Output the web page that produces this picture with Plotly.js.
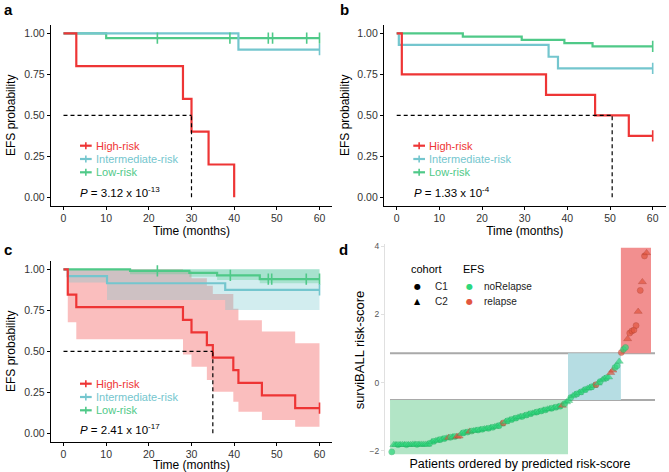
<!DOCTYPE html>
<html><head><meta charset="utf-8">
<script src="https://cdn.plot.ly/plotly-3.0.1.min.js"></script>
<style>html,body{margin:0;padding:0;background:#fff}#chart{width:669px;height:472px}</style>
</head><body><div id="chart"></div>
<script>
// ---------- DATA ----------
const groups = ['High-risk','Intermediate-risk','Low-risk'];
const timeTicks = [0,10,20,30,40,50,60];
const probTicks = [0,0.25,0.5,0.75,1];
const probTickText = ['0.00','0.25','0.50','0.75','1.00'];

// Panel a (cohort C1)
const aHighT = [0,3,28,30,34,40];          const aHighS = [1,0.8,0.6,0.4,0.2,0];
const aInterT = [0,41,60];                 const aInterS = [1,0.9,0.9];
const aLowT = [0,10,60];                   const aLowS = [1,0.971,0.971];
const aInterCensT = [60];                  const aInterCensS = [0.9];
const aLowCensT = [22,39,48,49,57,60];     const aLowCensS = [0.971,0.971,0.971,0.971,0.971,0.971];
const aMedian = 30;
const aP = '<i>P</i> = 3.12 x 10<sup>-13</sup>';

// Panel b (cohort C2)
const bHighT = [0,1.2,35,46.5,54.4,60];    const bHighS = [1,0.75,0.625,0.5,0.375,0.375];
const bInterT = [0,0.5,35.6,37.8,60];      const bInterS = [1,0.929,0.857,0.786,0.786];
const bLowT = [0,15.5,29.3,39.3,45.9,60];  const bLowS = [1,0.98,0.96,0.94,0.92,0.92];
const bHighCensT = [60];  const bHighCensS = [0.375];
const bInterCensT = [60]; const bInterCensS = [0.786];
const bLowCensT = [60];   const bLowCensS = [0.92];
const bMedian = 50.5;
const bP = '<i>P</i> = 1.33 x 10<sup>-4</sup>';

// Panel c (combined) with confidence bands
const cHighT = [0,1,3,28,30,33.6,35,39.8,41,46.5,54.3,60];
const cHighS = [1,0.846,0.769,0.692,0.615,0.538,0.462,0.385,0.308,0.231,0.154,0.154];
const cHighLo = [1,0.677,0.573,0.48,0.406,0.325,0.254,0.193,0.132,0.081,0.04,0.04];
const cHighHi = [1,1,1,0.99,0.945,0.9,0.85,0.76,0.69,0.62,0.549,0.549];
const cInterT = [0,1,10.2,37.9,60];
const cInterS = [1,0.958,0.915,0.874,0.874];
const cInterLo = [1,0.92,0.813,0.752,0.752];
const cInterHi = [1,1,1,1,1];
const cLowT = [0,15.6,29.5,36,46,60];
const cLowS = [1,0.99,0.978,0.963,0.94,0.94];
const cLowLo = [1,0.97,0.955,0.935,0.915,0.915];
const cLowHi = [1,1,1,1,1,1];
const cHighCensT = [60]; const cHighCensS = [0.154];
const cInterCensT = [60]; const cInterCensS = [0.874];
const cLowCensT = [22,39.1,48,48.8,56.9,60]; const cLowCensS = [0.99,0.963,0.94,0.94,0.94,0.94];
const cMedian = 35;
const cP = '<i>P</i> = 2.41 x 10<sup>-17</sup>';

// Panel d: risk scores ordered
const riskScore = [
-2.03,
-1.82,-1.82,-1.82,-1.82,-1.82,-1.82,-1.82,-1.82,-1.82,
-1.81,-1.81,-1.81,-1.81,-1.81,-1.81,-1.81,-1.81,
-1.78,-1.74,-1.72,-1.70,-1.69,-1.67,-1.66,-1.64,-1.63,
-1.61,-1.60,-1.59,-1.58,-1.58,-1.57,
-1.50,-1.47,-1.46,-1.45,-1.43,-1.42,-1.41,-1.40,-1.39,-1.38,
-1.37,-1.36,-1.35,-1.34,-1.32,-1.31,-1.29,-1.28,-1.26,-1.22,
-1.18,-1.15,-1.12,-1.10,-1.08,-1.06,-1.04,-1.02,-1.00,-0.99,
-0.97,-0.95,-0.93,-0.91,-0.90,-0.88,-0.86,-0.85,-0.83,-0.81,
-0.80,-0.78,-0.77,-0.75,-0.74,-0.72,-0.71,-0.69,-0.67,-0.62,
-0.57,-0.53,
-0.44,-0.39,-0.35,-0.33,-0.30,-0.27,-0.23,-0.20,-0.17,-0.15,
-0.12,-0.09,-0.06,-0.02,0.03,0.08,0.12,0.14,0.16,0.29,
0.36,0.44,0.49,0.62,
0.88,0.97,1.03,1.28,1.45,1.51,1.54,1.67,2.08,2.70,2.95,3.71,3.80];
const cohort = [
'C1',
'C2','C2','C1','C2','C2','C2','C1','C2','C2',
'C2','C2','C1','C2','C2','C2','C2','C2',
'C1','C2','C1','C2','C2','C1','C2','C1','C2',
'C2','C1','C2','C1','C2','C2',
'C2','C1','C2','C1','C2','C1','C2','C2','C1','C2',
'C1','C2','C2','C1','C2','C1','C2','C2','C1','C2',
'C1','C2','C1','C2','C1','C2','C1','C2','C2','C1',
'C2','C1','C2','C1','C2','C2','C1','C2','C1','C2',
'C1','C2','C2','C1','C2','C1','C2','C1','C2','C1',
'C2','C2',
'C1','C2','C2','C1','C2','C1','C2','C1','C2','C2',
'C1','C2','C1','C2','C1','C2','C2','C1','C2','C2',
'C2','C1','C1','C2',
'C1','C1','C1','C2','C1','C1','C1','C1','C2','C1','C2','C1','C2'];
const efs = [
'noRelapse',
'noRelapse','noRelapse','noRelapse','noRelapse','noRelapse','noRelapse','noRelapse','noRelapse','noRelapse',
'noRelapse','noRelapse','noRelapse','noRelapse','noRelapse','noRelapse','noRelapse','noRelapse',
'noRelapse','noRelapse','noRelapse','noRelapse','noRelapse','noRelapse','noRelapse','noRelapse','noRelapse',
'relapse','noRelapse','noRelapse','noRelapse','relapse','relapse',
'noRelapse','noRelapse','noRelapse','noRelapse','relapse','noRelapse','noRelapse','noRelapse','noRelapse','noRelapse',
'noRelapse','noRelapse','noRelapse','noRelapse','noRelapse','noRelapse','noRelapse','noRelapse','noRelapse','noRelapse',
'relapse','noRelapse','noRelapse','noRelapse','noRelapse','noRelapse','noRelapse','noRelapse','noRelapse','noRelapse',
'noRelapse','noRelapse','noRelapse','noRelapse','noRelapse','noRelapse','noRelapse','noRelapse','noRelapse','noRelapse',
'noRelapse','noRelapse','noRelapse','noRelapse','noRelapse','noRelapse','noRelapse','noRelapse','relapse','noRelapse',
'noRelapse','noRelapse',
'noRelapse','noRelapse','noRelapse','noRelapse','noRelapse','noRelapse','noRelapse','noRelapse','noRelapse','noRelapse',
'noRelapse','noRelapse','relapse','noRelapse','noRelapse','noRelapse','noRelapse','noRelapse','noRelapse','relapse',
'relapse','noRelapse','noRelapse','noRelapse',
'relapse','noRelapse','noRelapse','relapse','relapse','relapse','relapse','relapse','relapse','relapse','relapse','relapse','relapse'];
const riskCutoffs = [-0.51, 0.86];
const groupRankStart = [0.2, 84.7, 109.8];
const groupRankEnd = [84.7, 109.8, 124.1];
const groupScoreLow = [-2.1, -0.51, 0.86];
const groupScoreHigh = [-0.51, 0.86, 3.95];

// ---------- STYLE ----------
const W = 669, H = 472;
const px = v => v / W, py = v => 1 - v / H;
const RED = '#EE3535', TEAL = '#74C6CE', GREEN = '#4FC988';
const colors = [RED, TEAL, GREEN];
const FONT = 'Liberation Sans, Arial, sans-serif';
const PT_GREEN = '#2ED87C', PT_GREEN_EDGE = '#1FA85C', PT_RED = '#E2563F', PT_RED_EDGE = '#A83A2A';

const traces = [];
function km(t, s, color, n) {
  traces.push({x: t, y: s, mode: 'lines', line: {shape: 'hv', color: color, width: 2.2},
    xaxis: 'x' + n, yaxis: 'y' + n, showlegend: false, hoverinfo: 'skip'});
}
function cens(t, s, color, n) {
  traces.push({x: t, y: s, mode: 'markers', marker: {symbol: 'line-ns', size: 8, color: color, line: {color: color, width: 1.6}},
    xaxis: 'x' + n, yaxis: 'y' + n, showlegend: false, hoverinfo: 'skip'});
}
function band(t, lo, hi, fill, n) {
  traces.push({x: t, y: lo, mode: 'lines', line: {shape: 'hv', width: 0, color: 'rgba(0,0,0,0)'},
    xaxis: 'x' + n, yaxis: 'y' + n, showlegend: false, hoverinfo: 'skip'});
  traces.push({x: t, y: hi, mode: 'lines', line: {shape: 'hv', width: 0, color: 'rgba(0,0,0,0)'}, fill: 'tonexty', fillcolor: fill,
    xaxis: 'x' + n, yaxis: 'y' + n, showlegend: false, hoverinfo: 'skip'});
}

// a
km(aLowT, aLowS, GREEN, ''); km(aInterT, aInterS, TEAL, ''); km(aHighT, aHighS, RED, '');
cens(aLowCensT, aLowCensS, GREEN, ''); cens(aInterCensT, aInterCensS, TEAL, '');
// b
km(bLowT, bLowS, GREEN, 2); km(bInterT, bInterS, TEAL, 2); km(bHighT, bHighS, RED, 2);
cens(bLowCensT, bLowCensS, GREEN, 2); cens(bInterCensT, bInterCensS, TEAL, 2); cens(bHighCensT, bHighCensS, RED, 2);
// c
band(cHighT, cHighLo, cHighHi, 'rgba(238,52,52,0.32)', 3);
band(cInterT, cInterLo, cInterHi, 'rgba(116,198,206,0.32)', 3);
band(cLowT, cLowLo, cLowHi, 'rgba(79,201,136,0.32)', 3);
km(cLowT, cLowS, GREEN, 3); km(cInterT, cInterS, TEAL, 3); km(cHighT, cHighS, RED, 3);
cens(cLowCensT, cLowCensS, GREEN, 3); cens(cInterCensT, cInterCensS, TEAL, 3); cens(cHighCensT, cHighCensS, RED, 3);
// d
traces.push({
  x: riskScore.map((_, i) => i + 1), y: riskScore, mode: 'markers',
  marker: {
    symbol: cohort.map(c => c === 'C1' ? 'circle' : 'triangle-up'),
    size: cohort.map(c => c === 'C1' ? 6 : 7),
    color: efs.map(e => e === 'relapse' ? PT_RED : PT_GREEN),
    line: {width: 0.5, color: efs.map(e => e === 'relapse' ? PT_RED_EDGE : PT_GREEN_EDGE)}
  },
  xaxis: 'x4', yaxis: 'y4', showlegend: false, hoverinfo: 'skip'
});

// axes
function kmX(l, r, anchor) {
  return {domain: [px(l), px(r)], range: [-3, 63], anchor: anchor, showline: true, linecolor: '#000', linewidth: 1,
    ticks: 'outside', ticklen: 3, tickcolor: '#000', tickvals: timeTicks, tickfont: {size: 10.5, color: '#333', family: FONT},
    showgrid: false, zeroline: false, automargin: false,
    title: {text: 'Time (months)', font: {size: 12, color: '#000', family: FONT}, standoff: 2}};
}
function kmY(t, b, anchor) {
  return {domain: [py(b), py(t)], range: [-0.05, 1.05], anchor: anchor, showline: true, linecolor: '#000', linewidth: 1,
    ticks: 'outside', ticklen: 3, tickcolor: '#000', tickvals: probTicks, ticktext: probTickText,
    tickfont: {size: 10.5, color: '#333', family: FONT}, showgrid: false, zeroline: false, automargin: false,
    title: {text: 'EFS probability', font: {size: 12, color: '#000', family: FONT}, standoff: 5}};
}

const shapes = [];
const annotations = [];
// medians
[[aMedian, ''], [bMedian, '2'], [cMedian, '3']].forEach(([m, n]) => {
  shapes.push({type: 'line', xref: 'x' + n, yref: 'y' + n, x0: 0, x1: m, y0: 0.5, y1: 0.5, line: {color: '#000', width: 1.2, dash: '4px,3px'}});
  shapes.push({type: 'line', xref: 'x' + n, yref: 'y' + n, x0: m, x1: m, y0: 0, y1: 0.5, line: {color: '#000', width: 1.2, dash: '4px,3px'}});
});
// KM legends
function kmLegend(keyL, keyR, textX, ys, pX, pY, pText) {
  groups.forEach((g, i) => {
    const c = colors[i], y = ys[i], mid = (keyL + keyR) / 2;
    shapes.push({type: 'line', xref: 'paper', yref: 'paper', x0: px(keyL), x1: px(keyR), y0: py(y), y1: py(y), line: {color: c, width: 2.2}});
    shapes.push({type: 'line', xref: 'paper', yref: 'paper', x0: px(mid), x1: px(mid), y0: py(y - 3.5), y1: py(y + 3.5), line: {color: c, width: 1.6}});
    annotations.push({xref: 'paper', yref: 'paper', x: px(textX), y: py(y), xanchor: 'left', yanchor: 'middle', showarrow: false,
      text: g, font: {size: 11, color: c, family: FONT}});
  });
  annotations.push({xref: 'paper', yref: 'paper', x: px(pX), y: py(pY), xanchor: 'left', yanchor: 'middle', showarrow: false,
    text: pText, font: {size: 11.5, color: '#000', family: FONT}});
}
kmLegend(80, 91.7, 94, [145.7, 159, 172.3], 78, 191.7, aP);
kmLegend(413.3, 425, 427.5, [145.7, 159, 172.3], 411.5, 191.7, bP);
kmLegend(80, 91.7, 94, [383.7, 397, 410.3], 78, 428.7, cP);

// panel d rects and cutoffs
const rectColors = ['#B2E5C6', '#B6DDE3', '#F28F8F'];
for (let i = 0; i < 3; i++) {
  shapes.push({type: 'rect', xref: 'x4', yref: 'y4', x0: groupRankStart[i], x1: groupRankEnd[i], y0: groupScoreLow[i], y1: groupScoreHigh[i],
    fillcolor: rectColors[i], line: {width: 0}, layer: 'below'});
}
riskCutoffs.forEach(v => shapes.push({type: 'line', xref: 'x4 domain', yref: 'y4', x0: 0.0185, x1: 1, y0: v, y1: v,
  line: {color: '#A9A9A9', width: 2}, layer: 'below'}));

// panel d legend
const legF = {size: 10, color: '#222', family: FONT};
annotations.push({xref: 'paper', yref: 'paper', x: px(409), y: py(269.3), xanchor: 'left', yanchor: 'middle', showarrow: false, text: 'cohort', font: {size: 11, color: '#000', family: FONT}});
annotations.push({xref: 'paper', yref: 'paper', x: px(461), y: py(269.3), xanchor: 'left', yanchor: 'middle', showarrow: false, text: 'EFS', font: {size: 11, color: '#000', family: FONT}});
annotations.push({xref: 'paper', yref: 'paper', x: px(417.3), y: py(286.7), xanchor: 'center', yanchor: 'middle', showarrow: false, text: '●', font: {size: 8, color: '#000', family: 'DejaVu Sans'}});
annotations.push({xref: 'paper', yref: 'paper', x: px(417.3), y: py(301.7), xanchor: 'center', yanchor: 'middle', showarrow: false, text: '▲', font: {size: 8, color: '#000', family: 'DejaVu Sans'}});
annotations.push({xref: 'paper', yref: 'paper', x: px(432.5), y: py(286.7), xanchor: 'left', yanchor: 'middle', showarrow: false, text: 'C1', font: legF});
annotations.push({xref: 'paper', yref: 'paper', x: px(432.5), y: py(301.7), xanchor: 'left', yanchor: 'middle', showarrow: false, text: 'C2', font: legF});
annotations.push({xref: 'paper', yref: 'paper', x: px(470), y: py(286.7), xanchor: 'center', yanchor: 'middle', showarrow: false, text: '●', font: {size: 8, color: PT_GREEN, family: 'DejaVu Sans'}});
annotations.push({xref: 'paper', yref: 'paper', x: px(470), y: py(301.7), xanchor: 'center', yanchor: 'middle', showarrow: false, text: '●', font: {size: 8, color: PT_RED, family: 'DejaVu Sans'}});
annotations.push({xref: 'paper', yref: 'paper', x: px(482), y: py(286.7), xanchor: 'left', yanchor: 'middle', showarrow: false, text: 'noRelapse', font: legF});
annotations.push({xref: 'paper', yref: 'paper', x: px(482), y: py(301.7), xanchor: 'left', yanchor: 'middle', showarrow: false, text: 'relapse', font: legF});

// panel labels
[['a', 2, 10], ['b', 338, 10], ['c', 2, 249], ['d', 337, 249]].forEach(([t, x, y]) => {
  annotations.push({xref: 'paper', yref: 'paper', x: px(x), y: py(y), xanchor: 'left', yanchor: 'middle', showarrow: false,
    text: '<b>' + t + '</b>', font: {size: 15, color: '#000', family: FONT}});
});

const layout = {
  width: W, height: H, margin: {l: 0, r: 0, t: 0, b: 0}, paper_bgcolor: '#fff', plot_bgcolor: 'rgba(0,0,0,0)',
  font: {family: FONT}, showlegend: false,
  xaxis: kmX(50.7, 332.3, 'y'), yaxis: kmY(25.1, 205.5, 'x'),
  xaxis2: kmX(383.9, 665.5, 'y2'), yaxis2: kmY(25.1, 205.5, 'x2'),
  xaxis3: kmX(50.7, 332.3, 'y3'), yaxis3: kmY(261.1, 441.5, 'x3'),
  xaxis4: {domain: [px(385), px(655)], range: [-2.2, 126], anchor: 'y4', showline: false, showticklabels: false, ticks: '',
    showgrid: false, zeroline: false, automargin: false,
    title: {text: 'Patients ordered by predicted risk-score', font: {size: 12.5, color: '#000', family: FONT}, standoff: 3}},
  yaxis4: {domain: [py(456), py(244)], range: [-2.15, 4.06], anchor: 'x4', showline: true, linecolor: '#E0E0E0', linewidth: 1,
    ticks: 'outside', ticklen: 3, tickcolor: '#E0E0E0', tickvals: [-2, 0, 2, 4], tickfont: {size: 8.5, color: '#555', family: FONT},
    showgrid: false, zeroline: false, automargin: false,
    title: {text: 'surviBALL risk-score', font: {size: 13, color: '#000', family: FONT}, standoff: 2}},
  shapes: shapes, annotations: annotations
};
Plotly.newPlot('chart', traces, layout, {staticPlot: true, displayModeBar: false});
</script></body></html>
